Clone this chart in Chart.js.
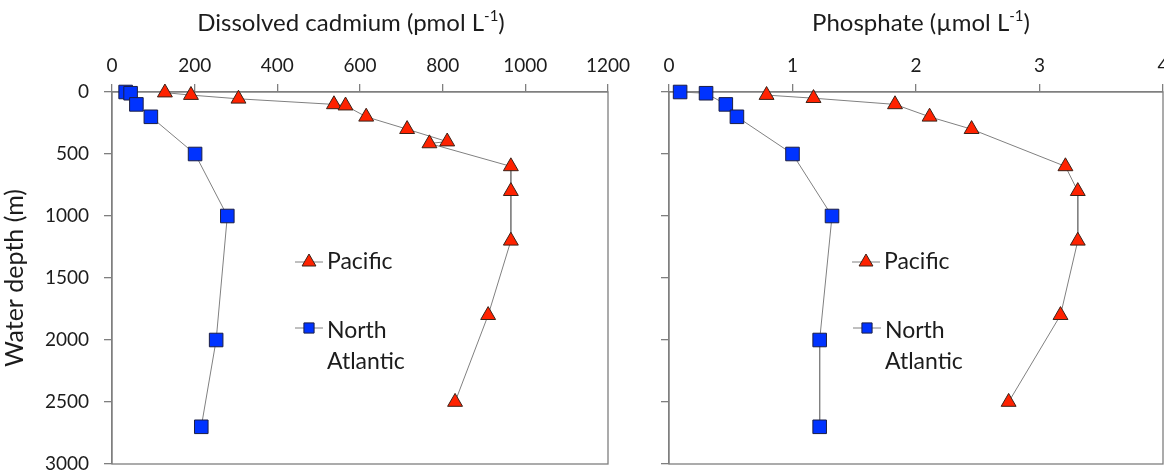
<!DOCTYPE html>
<html>
<head>
<meta charset="utf-8">
<title>Dissolved cadmium and phosphate depth profiles</title>
<script src="https://cdn.jsdelivr.net/npm/chart.js@4.4.1/dist/chart.umd.min.js"></script>
<style>
  html, body { margin: 0; padding: 0; background: #fff; overflow: hidden; width: 1164px; height: 475px; }
  #wrapCd { position: absolute; left: 0; top: 0; width: 640px; height: 475px; }
  #wrapP  { position: absolute; left: 640px; top: 0; width: 560px; height: 475px; }
  canvas { display: block; }
</style>
</head>
<body>
<div id="wrapCd"><canvas id="cdChart" width="640" height="475"></canvas></div>
<div id="wrapP"><canvas id="pChart" width="560" height="475"></canvas></div>
<script>
// ---- data ----
const depthTicks = [0, 500, 1000, 1500, 2000, 2500, 3000];
const cdTicks = [0, 200, 400, 600, 800, 1000, 1200];
const po4Ticks = [0, 1, 2, 3, 4];

// Pacific profile, cadmium (pmol/L) against depth (m)
const pacificCdDepth = [5, 25, 55, 100, 110, 200, 300, 400, 415, 600, 800, 1200, 1800, 2500];
const pacificCd      = [128, 191, 306, 537, 565, 615, 714, 811, 768, 965, 965, 965, 910, 830];

// North Atlantic profile, cadmium
const atlanticCdDepth = [0, 10, 100, 200, 500, 1000, 2000, 2700];
const atlanticCd      = [33, 45, 59, 94, 201, 279, 252, 216];

// Pacific profile, phosphate (umol/L)
const pacificPDepth = [25, 50, 100, 200, 300, 600, 800, 1200, 1800, 2500];
const pacificP      = [0.79, 1.17, 1.83, 2.11, 2.45, 3.21, 3.31, 3.31, 3.17, 2.75];

// North Atlantic profile, phosphate
const atlanticPDepth = [0, 10, 100, 200, 500, 1000, 2000, 2700];
const atlanticP      = [0.09, 0.30, 0.46, 0.55, 1.00, 1.32, 1.22, 1.22];

const seriesNames = ['Pacific', 'North Atlantic'];

// ---- styling ----
const FONT = 'Lato, "Open Sans", "DejaVu Sans", sans-serif';
const TEXT = '#1c1c1c';
const AXIS = '#7f7f7f';
const LINE = '#808080';

const pair = (xs, ys) => xs.map((v, i) => ({ x: v, y: ys[i] }));

function pacificSet(xs, depths) {
  return {
    label: seriesNames[0],
    data: pair(xs, depths),
    showLine: true,
    borderColor: LINE,
    borderWidth: 1,
    pointStyle: 'triangle',
    pointRadius: 8.6,
    pointBackgroundColor: '#ff2200',
    pointBorderColor: '#3b2218',
    pointBorderWidth: 1,
    clip: false
  };
}
function atlanticSet(xs, depths) {
  return {
    label: seriesNames[1],
    data: pair(xs, depths),
    showLine: true,
    borderColor: LINE,
    borderWidth: 1,
    pointStyle: 'rect',
    pointRadius: 9.6,
    pointBackgroundColor: '#0033ff',
    pointBorderColor: '#1b1f45',
    pointBorderWidth: 1,
    clip: false
  };
}

// Frame around the plotting area (right and bottom sides included)
const frame = {
  id: 'frame',
  beforeDatasetsDraw(chart) {
    const { ctx, chartArea: a } = chart;
    ctx.save();
    ctx.strokeStyle = AXIS;
    ctx.lineWidth = 1.3;
    ctx.strokeRect(a.left, a.top, a.right - a.left, a.bottom - a.top);
    ctx.restore();
  }
};

// Axis heading above the top scale, with a superscript unit exponent
const heading = {
  id: 'heading',
  afterDraw(chart, args, opts) {
    const ctx = chart.ctx;
    ctx.save();
    ctx.fillStyle = TEXT;
    ctx.textBaseline = 'alphabetic';
    const main = `${opts.size}px ${FONT}`;
    const sup = `${Math.round(opts.size * 0.62)}px ${FONT}`;
    let total = 0;
    opts.parts.forEach(p => { ctx.font = p.sup ? sup : main; total += ctx.measureText(p.t).width; });
    let x = opts.cx - total / 2;
    ctx.textAlign = 'left';
    opts.parts.forEach(p => {
      ctx.font = p.sup ? sup : main;
      ctx.fillText(p.t, x, p.sup ? opts.baseline - opts.size * 0.42 : opts.baseline);
      x += ctx.measureText(p.t).width;
    });
    ctx.restore();
  }
};

// Key drawn inside the plotting area
const innerKey = {
  id: 'innerKey',
  afterDatasetsDraw(chart, args, opts) {
    const ctx = chart.ctx;
    opts.items.forEach(it => {
      const ds = chart.data.datasets[it.dataset];
      ctx.save();
      ctx.strokeStyle = ds.borderColor;
      ctx.lineWidth = 1;
      ctx.beginPath();
      ctx.moveTo(it.x - 14, it.y);
      ctx.lineTo(it.x + 14, it.y);
      ctx.stroke();
      ctx.fillStyle = ds.pointBackgroundColor;
      ctx.strokeStyle = ds.pointBorderColor;
      ctx.lineWidth = ds.pointBorderWidth;
      Chart.helpers.drawPoint(ctx, { pointStyle: ds.pointStyle, radius: it.r, borderWidth: 1, rotation: 0 }, it.x, it.y);
      ctx.fillStyle = TEXT;
      ctx.font = `${opts.size}px ${FONT}`;
      ctx.textAlign = 'left';
      ctx.textBaseline = 'middle';
      it.lines.forEach((t, k) => ctx.fillText(t, it.x + 18, it.ty + k * opts.lineGap));
      ctx.restore();
    });
  }
};

function scalesFor(xTicks, xMax, showDepthLabels) {
  return {
    x: {
      type: 'linear',
      position: 'top',
      min: 0,
      max: xMax,
      afterBuildTicks: s => { s.ticks = xTicks.map(v => ({ value: v })); },
      afterFit: s => { s.height = 92; s.paddingLeft = 0; s.paddingRight = 0; },
      ticks: { color: TEXT, font: { family: FONT, size: 19 }, padding: 7, maxRotation: 0, callback: v => String(v) },
      grid: { drawOnChartArea: false, drawTicks: true, tickLength: 8, color: AXIS, lineWidth: 1.3 },
      border: { display: true, color: AXIS, width: 1.3 }
    },
    y: {
      type: 'linear',
      reverse: true,
      min: 0,
      max: 3000,
      afterBuildTicks: s => { s.ticks = depthTicks.map(v => ({ value: v })); },
      afterFit: s => { s.width = showDepthLabels ? 112 : 29; s.paddingTop = 0; s.paddingBottom = 0; },
      ticks: { display: showDepthLabels, color: TEXT, font: { family: FONT, size: 19 }, padding: 15, callback: v => String(v) },
      grid: { drawOnChartArea: false, drawTicks: true, tickLength: 8, color: AXIS, lineWidth: 1.3 },
      border: { display: true, color: AXIS, width: 1.3 },
      title: {
        display: showDepthLabels,
        text: 'Water depth (m)',
        color: TEXT,
        font: { family: FONT, size: 25 },
        padding: { top: 0, bottom: 0 }
      }
    }
  };
}

const baseOptions = {
  responsive: false,
  animation: false,
  devicePixelRatio: 1,
  events: []
};

new Chart(document.getElementById('cdChart'), {
  type: 'scatter',
  data: { datasets: [pacificSet(pacificCd, pacificCdDepth), atlanticSet(atlanticCd, atlanticCdDepth)] },
  options: {
    ...baseOptions,
    layout: { padding: { left: 0, right: 32, top: 0, bottom: 11 } },
    scales: scalesFor(cdTicks, 1200, true),
    plugins: {
      legend: { display: false },
      tooltip: { enabled: false },
      heading: { cx: 351, baseline: 31, size: 24, parts: [{ t: 'Dissolved cadmium (pmol L' }, { t: '-1', sup: true }, { t: ')' }] },
      innerKey: {
        size: 23, lineGap: 31,
        items: [
          { dataset: 0, x: 309, y: 262, r: 8, ty: 262, lines: ['Pacific'] },
          { dataset: 1, x: 309, y: 328, r: 7.2, ty: 331, lines: ['North', 'Atlantic'] }
        ]
      }
    }
  },
  plugins: [frame, heading, innerKey]
});

new Chart(document.getElementById('pChart'), {
  type: 'scatter',
  data: { datasets: [pacificSet(pacificP, pacificPDepth), atlanticSet(atlanticP, atlanticPDepth)] },
  options: {
    ...baseOptions,
    layout: { padding: { left: 0, right: 37, top: 0, bottom: 11 } },
    scales: scalesFor(po4Ticks, 4, false),
    plugins: {
      legend: { display: false },
      tooltip: { enabled: false },
      heading: { cx: 281, baseline: 31, size: 24, parts: [{ t: 'Phosphate (\u00b5mol L' }, { t: '-1', sup: true }, { t: ')' }] },
      innerKey: {
        size: 23, lineGap: 31,
        items: [
          { dataset: 0, x: 226, y: 262, r: 8, ty: 262, lines: ['Pacific'] },
          { dataset: 1, x: 227, y: 328, r: 7.2, ty: 331, lines: ['North', 'Atlantic'] }
        ]
      }
    }
  },
  plugins: [frame, heading, innerKey]
});
</script>
</body>
</html>
